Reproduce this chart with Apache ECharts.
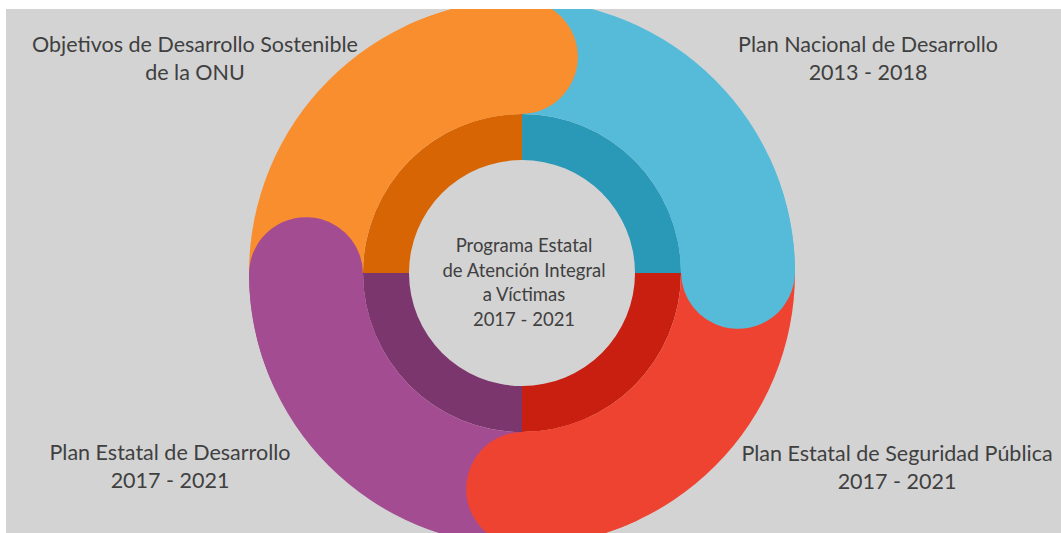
<!DOCTYPE html>
<html>
<head>
<meta charset="utf-8">
<script src="https://cdn.jsdelivr.net/npm/echarts@6/dist/echarts.min.js"></script>
<style>
html,body{margin:0;padding:0;background:#ffffff;width:1061px;height:533px;overflow:hidden;}
#chart{position:absolute;left:6px;top:9px;width:1055px;height:524px;background:#d3d3d3;}
</style>
</head>
<body>
<div id="chart"></div>
<script>
// ---- data ----
var categories = [
  'Objetivos de Desarrollo Sostenible\nde la ONU',
  'Plan Nacional de Desarrollo\n2013 - 2018',
  'Plan Estatal de Seguridad Pública\n2017 - 2021',
  'Plan Estatal de Desarrollo\n2017 - 2021'
];
var values = [25, 25, 25, 25];
var centerTitle = 'Programa Estatal\nde Atención Integral\na Víctimas\n2017 - 2021';

// ---- styles ----
var outerColors = ['#f98e2e', '#56bbd9', '#ef4331', '#a44c92'];
var innerColors = ['#d76504', '#2a98b7', '#c81f11', '#7b376d'];
var labelPos = [[189, 49], [862, 49], [891, 457.5], [164, 457]];
var cx = 516, cy = 264;
var rHole = 113, rMid = 159, rOuter = 273;
var capBefore = 25, capAfter = 15; // degrees
var capR = (rOuter - rMid) / 2;

var chart = echarts.init(document.getElementById('chart'), null, {renderer: 'svg'});

var total = values.reduce(function (a, b) { return a + b; }, 0);
var baseData = categories.map(function (c, i) {
  return {name: c, value: values[i], itemStyle: {color: outerColors[i]}};
});
var innerData = categories.map(function (c, i) {
  return {name: c, value: values[i], itemStyle: {color: innerColors[i]}};
});
var capData = [];
categories.forEach(function (c, i) {
  var deg = values[i] / total * 360;
  capData.push({name: c + ' cap', value: capBefore + capAfter,
    itemStyle: {color: outerColors[i], borderRadius: [0, capR, 0, capR]}});
  capData.push({name: 'gap' + i, value: deg - capBefore - capAfter,
    itemStyle: {color: 'rgba(0,0,0,0)'}});
});

var common = {
  type: 'pie',
  center: [cx, cy],
  clockwise: true,
  silent: true,
  label: {show: false},
  labelLine: {show: false},
  emphasis: {disabled: true, scale: false},
  animation: false
};

var graphics = categories.map(function (c, i) {
  return {
    type: 'text', x: labelPos[i][0], y: labelPos[i][1], silent: true,
    style: {
      text: c, align: 'center', verticalAlign: 'middle',
      textAlign: 'center', textVerticalAlign: 'middle',
      fontSize: 21.5, fontFamily: 'Lato', lineHeight: 28, fill: '#404040'
    }
  };
});
graphics.push({
  type: 'text', x: 518, y: 273, silent: true,
  style: {
    text: centerTitle, align: 'center', verticalAlign: 'middle',
    textAlign: 'center', textVerticalAlign: 'middle',
    fontSize: 18.5, fontFamily: 'Lato', lineHeight: 24.7, fill: '#404040'
  }
});

chart.setOption({
  animation: false,
  backgroundColor: 'transparent',
  graphic: graphics,
  series: [
    Object.assign({}, common, {name: 'inner', radius: [rHole, rMid], startAngle: 180, data: innerData}),
    Object.assign({}, common, {name: 'outer', radius: [rMid, rOuter], startAngle: 180, data: baseData}),
    Object.assign({}, common, {name: 'caps', radius: [rMid, rOuter], startAngle: 90 + capBefore, data: capData})
  ]
});
</script>
</body>
</html>
